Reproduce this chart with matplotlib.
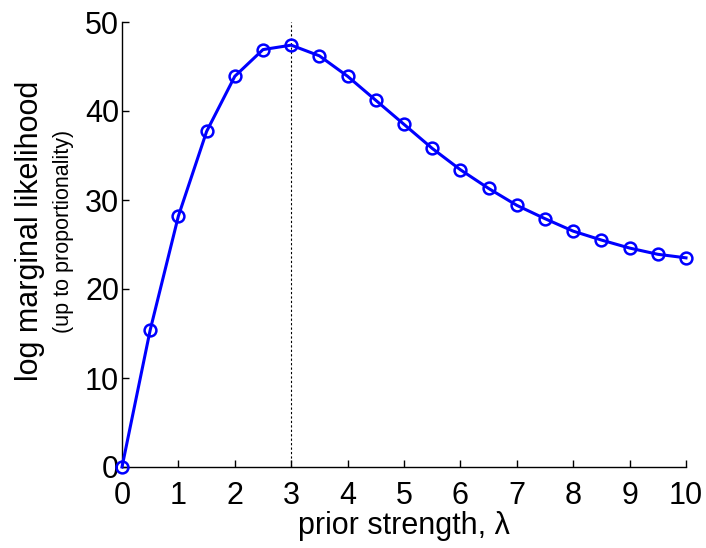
import matplotlib
matplotlib.use("Agg")
import matplotlib.pyplot as plt

lam = [0, 0.5, 1, 1.5, 2, 2.5, 3, 3.5, 4, 4.5, 5, 5.5, 6, 6.5, 7, 7.5, 8, 8.5, 9, 9.5, 10]
loglik = [0, 15.4, 28.2, 37.7, 43.9, 46.9, 47.4, 46.2, 43.9, 41.2, 38.5, 35.8, 33.4,
          31.3, 29.4, 27.9, 26.5, 25.5, 24.6, 23.9, 23.5]
best_lam = 3
x_ticks = [0, 1, 2, 3, 4, 5, 6, 7, 8, 9, 10]
y_ticks = [0, 10, 20, 30, 40, 50]

plt.rcParams['font.family'] = ['Liberation Sans', 'DejaVu Sans']

fig = plt.figure(figsize=(7.06, 5.48), dpi=100)
ax = fig.add_axes([122/706, 1 - 467/548, (686-122)/706, (467-22)/548])

ax.plot([best_lam, best_lam], [0, 50], color='black', linestyle=(0, (2, 2)), linewidth=0.8, zorder=1)
ax.plot(lam, loglik, color='#0000ff', linewidth=2.2, marker='o', markersize=8.5,
        markerfacecolor='none', markeredgewidth=1.8, markeredgecolor='#0000ff', zorder=3, clip_on=False)

ax.set_xlim(0, 10)
ax.set_ylim(0, 50)
ax.set_xticks(x_ticks)
ax.set_yticks(y_ticks)
ax.tick_params(direction='in', labelsize=22, length=5, width=1)
ax.tick_params(axis='x', pad=10)
ax.tick_params(axis='y', pad=2)
for s in ['top', 'right']:
    ax.spines[s].set_visible(False)
for s in ['left', 'bottom']:
    ax.spines[s].set_linewidth(1.0)

ax.set_xlabel('prior strength, λ', fontsize=22, labelpad=0)
fig.text(30/706, 1 - 231/548, 'log marginal likelihood', rotation=90, fontsize=22,
         ha='center', va='center')
fig.text(64/706, 1 - 231/548, '(up to proportionality)', rotation=90, fontsize=15.5,
         ha='center', va='center')

fig.savefig('out.png', dpi=100)
